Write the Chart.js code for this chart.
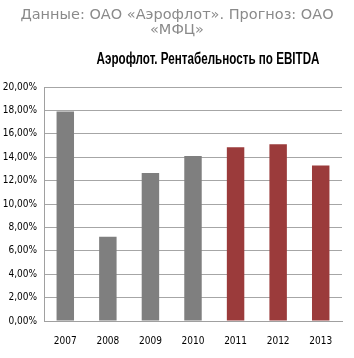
<!DOCTYPE html>
<html lang="ru">
<head>
<meta charset="utf-8">
<title>Аэрофлот. Рентабельность по EBITDA</title>
<script src="https://cdn.jsdelivr.net/npm/chart.js@4"></script>
<style>
    body { margin: 0; background: #fff; }
    #wrap { position: relative; width: 354px; height: 358px; overflow: hidden; }
    #source {
        position: absolute; left: 0; top: 7px; width: 354px;
        text-align: center; color: #8a8a8a;
        font: 14.5px/15px "DejaVu Sans", sans-serif;
    }
    #title {
        position: absolute; left: 208px; top: 50px;
        white-space: nowrap; color: #000;
        font: bold 16px/18px "Liberation Sans", Arial, sans-serif;
        transform-origin: 0 0;
    }
</style>
</head>
<body>
<div id="wrap">
    <canvas id="ebitda-chart" width="354" height="358"></canvas>
    <div id="source">Данные: ОАО «Аэрофлот». Прогноз: ОАО<br>«МФЦ»</div>
    <div id="title">Аэрофлот. Рентабельность по EBITDA</div>
</div>
<script>
// годы
const years = ['2007', '2008', '2009', '2010', '2011', '2012', '2013'];
// рентабельность по EBITDA, %
const margin = [17.9, 7.2, 12.65, 14.1, 14.85, 15.1, 13.3];
// факт / прогноз
const barColors = ['#7f7f7f', '#7f7f7f', '#7f7f7f', '#7f7f7f', '#9b3b3b', '#9b3b3b', '#9b3b3b'];
// шкала Y
const yMin = 0;
const yMax = 20;
const yStep = 2;

document.addEventListener('DOMContentLoaded', function() {
    // заголовок узким начертанием: сжимаем по ширине до 223px, центр на x=208
    const title = document.getElementById('title');
    const w = title.getBoundingClientRect().width;
    const k = 223 / w;
    title.style.transform = 'translateX(' + (-111.5) + 'px) scaleX(' + k + ')';

    const ctx = document.getElementById('ebitda-chart').getContext('2d');
    const narrow = '"DejaVu Sans Condensed", "DejaVu Sans", sans-serif';

    new Chart(ctx, {
        type: 'bar',
        data: {
            labels: years,
            datasets: [{
                data: margin,
                backgroundColor: barColors,
                barPercentage: 0.41,
                categoryPercentage: 1
            }]
        },
        options: {
            responsive: false,
            animation: false,
            devicePixelRatio: 1,
            layout: { padding: { top: 87, right: 12, left: 0, bottom: 0 } },
            plugins: {
                legend: { display: false },
                tooltip: { enabled: false }
            },
            scales: {
                x: {
                    grid: { display: false, drawTicks: false },
                    border: { color: '#a0a0a0' },
                    ticks: { color: '#000', padding: 14, font: { family: narrow, size: 10 } },
                    afterFit: function(scale) { scale.height = 37; }
                },
                y: {
                    min: yMin,
                    max: yMax,
                    grid: { color: '#a6a6a6', drawTicks: false },
                    border: { color: '#a0a0a0' },
                    ticks: {
                        stepSize: yStep,
                        color: '#000',
                        padding: 7,
                        font: { family: narrow, size: 10 },
                        callback: function(v) { return v.toFixed(2).replace('.', ',') + '%'; }
                    },
                    afterFit: function(scale) { scale.width = 44; }
                }
            }
        }
    });
});
</script>
</body>
</html>
